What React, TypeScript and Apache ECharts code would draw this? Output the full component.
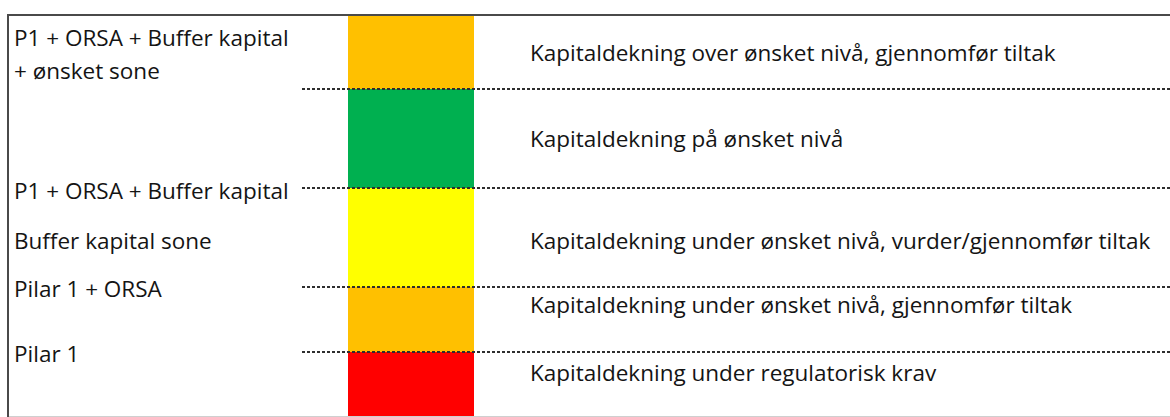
import React, { useEffect, useRef } from "react";
import * as echarts from "echarts";

// Zone heights (bottom to top), in chart units
const zoneNames = ["Rød", "Oransje", "Gul", "Grønn", "Oransje topp"];
const zoneValues = [65, 65, 99, 99, 73];
const zoneColors = ["#FF0000", "#FFC000", "#FFFF00", "#00B050", "#FFC000"];
// Threshold levels where dotted lines are drawn
const thresholds = [65, 130, 229, 328];
const leftLabels = [
  "P1 + ORSA + Buffer kapital",
  "+ ønsket sone",
  "P1 + ORSA + Buffer kapital",
  "Buffer kapital sone",
  "Pilar 1 + ORSA",
  "Pilar 1",
];
const rightLabels = [
  "Kapitaldekning over ønsket nivå, gjennomfør tiltak",
  "Kapitaldekning på ønsket nivå",
  "Kapitaldekning under ønsket nivå, vurder/gjennomfør tiltak",
  "Kapitaldekning under ønsket nivå, gjennomfør tiltak",
  "Kapitaldekning under regulatorisk krav",
];

const leftY = [37, 70, 190, 240, 288, 353];
const rightY = [52, 138, 240, 304, 372];
const FONT = "22.5px 'Open Sans', Lato, sans-serif";

export default function App() {
  const ref = useRef<HTMLDivElement>(null);
  useEffect(() => {
    document.body.style.margin = "0";
    const chart = echarts.init(ref.current!, null, { renderer: "svg" });
    const total = zoneValues.reduce((a, b) => a + b, 0);
    const series: any[] = zoneValues.map((v, i) => ({
      type: "bar",
      name: zoneNames[i],
      stack: "zones",
      barWidth: "100%",
      xAxisIndex: 0,
      yAxisIndex: 0,
      data: [v],
      itemStyle: { color: zoneColors[i] },
      silent: true,
    }));
    series.push({
      type: "line",
      xAxisIndex: 1,
      yAxisIndex: 1,
      data: [[0, 0]],
      showSymbol: false,
      lineStyle: { opacity: 0 },
      silent: true,
      z: 10,
      markLine: {
        silent: true,
        symbol: "none",
        label: { show: false },
        lineStyle: { color: "#2e2e2e", width: 2, type: [3, 2] },
        data: thresholds.map((t) => ({ yAxis: t })),
      },
    });
    const graphics: any[] = [
      {
        type: "rect",
        shape: { x: 8, y: 15, width: 1300, height: 500 },
        style: { fill: "none", stroke: "#4a4a4a", lineWidth: 2 },
        z: 100,
      },
      {
        type: "line",
        shape: { x1: 9, y1: 416.5, x2: 1170, y2: 416.5 },
        style: { stroke: "#cfcfcf", lineWidth: 1 },
        z: 100,
      },
    ];
    const addText = (t: string, x: number, y: number) =>
      graphics.push({
        type: "text",
        x,
        y,
        style: {
          text: t,
          font: FONT,
          fill: "#141414",
          textVerticalAlign: "middle",
          verticalAlign: "middle",
        },
        z: 100,
      });
    leftLabels.forEach((t, i) => addText(t, 14, leftY[i]));
    rightLabels.forEach((t, i) => addText(t, 530, rightY[i]));
    chart.setOption({
      animation: false,
      grid: [
        { left: 348, width: 126, top: 16, bottom: 0 },
        { left: 302, right: 0, top: 16, bottom: 0 },
      ],
      xAxis: [
        { type: "category", data: ["Sone"], show: false, gridIndex: 0 },
        { type: "value", min: 0, max: 1, show: false, gridIndex: 1 },
      ],
      yAxis: [
        { type: "value", min: 0, max: total, show: false, gridIndex: 0 },
        { type: "value", min: 0, max: total, show: false, gridIndex: 1 },
      ],
      series,
      graphic: graphics,
    });
    return () => chart.dispose();
  }, []);
  return <div ref={ref} style={{ width: 1170, height: 417 }} />;
}
